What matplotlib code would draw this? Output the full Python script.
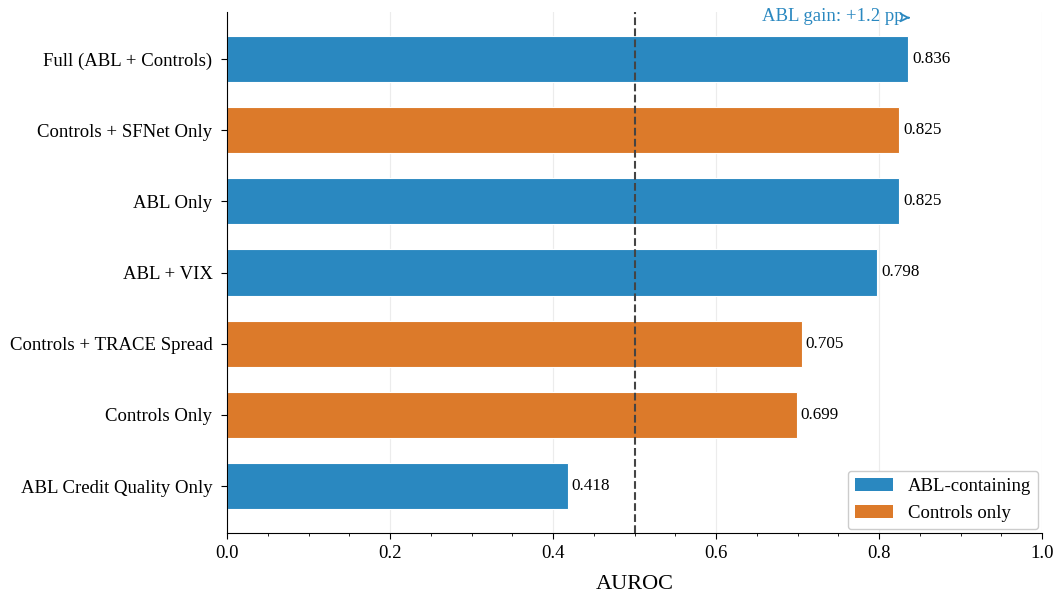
import matplotlib
matplotlib.use("Agg")
import matplotlib.pyplot as plt
from matplotlib.patches import Patch
from matplotlib.ticker import MultipleLocator

plt.rcParams['font.family'] = ['Liberation Serif', 'DejaVu Serif']

models = ["Full (ABL + Controls)", "Controls + SFNet Only", "ABL Only", "ABL + VIX",
          "Controls + TRACE Spread", "Controls Only", "ABL Credit Quality Only"]
auroc = [0.836, 0.825, 0.825, 0.798, 0.705, 0.699, 0.418]
group = ["abl", "ctrl", "abl", "abl", "ctrl", "ctrl", "abl"]

BLUE = "#2a88c0"
ORANGE = "#dc7a2a"
colors = {"abl": BLUE, "ctrl": ORANGE}

fig = plt.figure(figsize=(10.58, 5.97), dpi=100)
ax = fig.add_axes([227/1058, 64/597, 815/1058, 521/597])

n = len(models)
ypos = list(range(n - 1, -1, -1))
ax.barh(ypos, auroc, height=0.65, color=[colors[g] for g in group],
        edgecolor="white", linewidth=0.8, zorder=2)
for y, v in zip(ypos, auroc):
    ax.text(v + 0.005, y, f"{v:.3f}", va="center", ha="left", fontsize=12.3)

ax.axvline(0.5, color="#444444", linestyle="--", linewidth=1.5, zorder=3)
ax.set_yticks(ypos)
ax.set_yticklabels(models, fontsize=13.5)
ax.set_xlim(0, 1.0)
ax.set_ylim(-0.66, 6.66)
ax.xaxis.set_major_locator(MultipleLocator(0.2))
ax.xaxis.set_minor_locator(MultipleLocator(0.05))
ax.tick_params(axis="x", labelsize=13.5, pad=5)
ax.tick_params(axis="y", pad=6.5)
ax.tick_params(which="major", length=4)
ax.set_xlabel("AUROC", fontsize=16, labelpad=9)
ax.grid(axis="x", color="#ececec", linewidth=0.8, zorder=0)
ax.set_axisbelow(True)
for s in ["top", "right"]:
    ax.spines[s].set_visible(False)

ax.annotate("ABL gain: +1.2 pp", xy=(0.838, 6.58), xytext=(0.743, 6.6),
            ha="center", va="center", color=BLUE, fontsize=13.5,
            arrowprops=dict(arrowstyle="->", color=BLUE, lw=1.3))

handles = [Patch(facecolor=BLUE, label="ABL-containing"),
           Patch(facecolor=ORANGE, label="Controls only")]
ax.legend(handles=handles, loc="lower right", fontsize=13.5, framealpha=1,
          borderaxespad=0.2)

fig.savefig("out.png", dpi=100)
